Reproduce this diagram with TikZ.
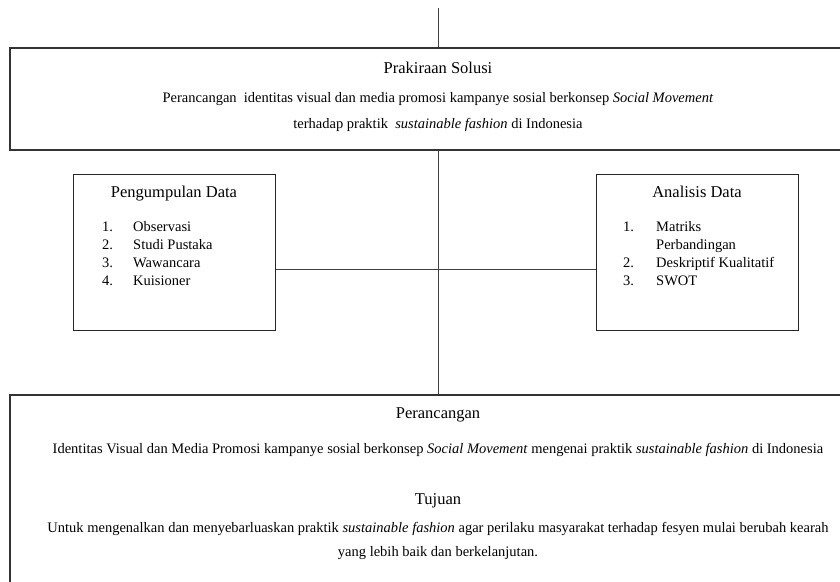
\documentclass[tikz,border=0pt]{standalone}
\usepackage{fontspec}
\setmainfont{Liberation Serif}
\begin{document}
\begin{tikzpicture}[x=1pt,y=-1pt,
  box/.style={draw=black!80, line width=1.2pt, inner sep=0pt},
  sidebox/.style={draw=black!85, line width=1pt, inner sep=0pt},
  link/.style={draw=black!75, line width=0.8pt},
  ttl/.style={font=\fontsize{16.5}{18}\selectfont, inner sep=0pt, anchor=base},
  txt/.style={font=\fontsize{14.5}{17}\selectfont, inner sep=0pt, anchor=base},
  item/.style={font=\fontsize{14.5}{17}\selectfont, inner sep=0pt, anchor=base west}]
\useasboundingbox (0,0) rectangle (840,581);
% boxes
\node[box, minimum width=856pt, minimum height=102pt] (sol) at (438,99) {};
\node[sidebox, minimum width=202pt, minimum height=156pt] (pd) at (174,252) {};
\node[sidebox, minimum width=202pt, minimum height=156pt] (ad) at (697,252) {};
\node[box, minimum width=856pt, minimum height=220pt] (per) at (438,505) {};
\coordinate (top) at (438,8);
% connectors
\draw[link] (top) -- (sol.north);
\draw[link] (sol.south) -- (per.north);
\draw[link] ([yshift=-17pt]pd.east) -- ([yshift=-17pt]ad.west);
% top box text
\node[ttl] (solt) at (438,73) {Prakiraan Solusi};
\node[txt] (sol1) at (438,102) {Perancangan\ \ identitas visual dan media promosi kampanye sosial berkonsep \textit{Social Movement}};
\node[txt] (sol2) at (438,128) {terhadap praktik\ \ \textit{sustainable fashion} di Indonesia};
% left box
\node[ttl] (pdt) at (174,197) {Pengumpulan Data};
\node[item] (pn1) at (102,231) {1.};
\node[item] (pi1) at (133,231) {Observasi};
\node[item] (pn2) at (102,249) {2.};
\node[item] (pi2) at (133,249) {Studi Pustaka};
\node[item] (pn3) at (102,267) {3.};
\node[item] (pi3) at (133,267) {Wawancara};
\node[item] (pn4) at (102,285) {4.};
\node[item] (pi4) at (133,285) {Kuisioner};
% right box
\node[ttl] (adt) at (697,197) {Analisis Data};
\node[item] (an1) at (623,231) {1.};
\node[item] (ai1) at (656,231) {Matriks};
\node[item] (ai1b) at (656,249) {Perbandingan};
\node[item] (an2) at (623,267) {2.};
\node[item] (ai2) at (656,267) {Deskriptif Kualitatif};
\node[item] (an3) at (623,285) {3.};
\node[item] (ai3) at (656,285) {SWOT};
% bottom box
\node[ttl] (pert) at (438,418) {Perancangan};
\node[txt] (per1) at (438,453) {Identitas Visual dan Media Promosi kampanye sosial berkonsep \textit{Social Movement} mengenai praktik \textit{sustainable fashion} di Indonesia};
\node[ttl] (tuj) at (438,504) {Tujuan};
\node[txt] (tuj1) at (438,532) {Untuk mengenalkan dan menyebarluaskan praktik \textit{sustainable fashion} agar perilaku masyarakat terhadap fesyen mulai berubah kearah};
\node[txt] (tuj2) at (438,556) {yang lebih baik dan berkelanjutan.};
\end{tikzpicture}
\end{document}
